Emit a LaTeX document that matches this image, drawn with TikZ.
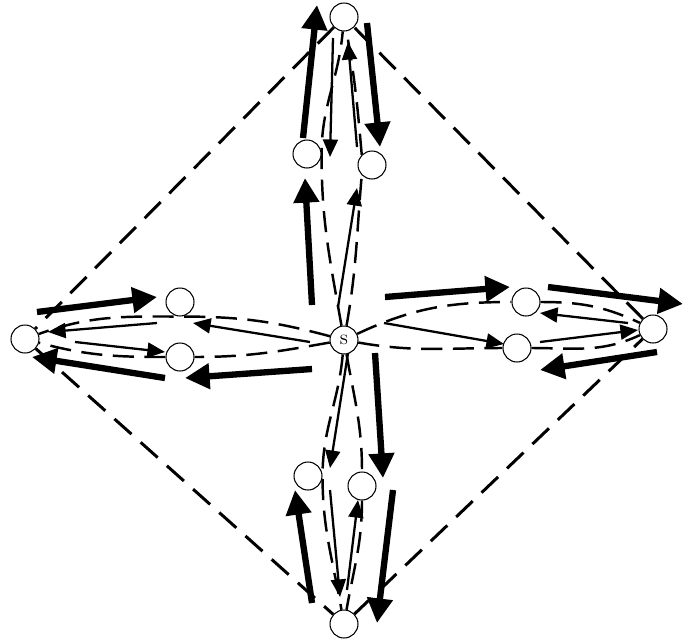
\documentclass[tikz,border=0pt]{standalone}
\usepackage{tikz}
\usetikzlibrary{arrows.meta}
\pgfdeclarelayer{bg}
\pgfsetlayers{bg,main}

\begin{document}
\begin{tikzpicture}[x=0.02cm,y=-0.02cm,
    vtx/.style={circle,draw,line width=0.6pt,fill=white,minimum size=0.56cm,inner sep=0pt},
    frame/.style={line width=1.7pt,dash pattern=on 13pt off 7pt},
    lens/.style={line width=1.4pt,dash pattern=on 12pt off 6pt},
    thk/.style={line width=3.6pt,-{Triangle[length=14pt,width=14pt]}},
    thn/.style={line width=1.3pt,-{Triangle[length=10pt,width=8.5pt]}}]
\useasboundingbox (0,0) rectangle (689,643);

% vertices
\node[vtx,font=\large] (s) at (344,340) {s};
\node[vtx] (t) at (344,17) {};
\node[vtx] (tl) at (307,154) {};
\node[vtx] (tr) at (372,165) {};
\node[vtx] (l) at (25,339) {};
\node[vtx] (lu) at (180,302) {};
\node[vtx] (ll) at (180,357) {};
\node[vtx] (r) at (653,329) {};
\node[vtx] (ru) at (526,302) {};
\node[vtx] (rl) at (517,348) {};
\node[vtx] (b) at (344,624) {};
\node[vtx] (bl) at (308,476) {};
\node[vtx] (br) at (362,486) {};

\begin{pgfonlayer}{bg}
% outer diamond
\draw[frame] (t) -- (l) -- (b) -- (r) -- (t);

% dashed lobes
\draw[lens] (s) to[out=25,in=180] (ru) to[out=0,in=155] (r);
\draw[lens] (s) to[out=-10,in=180] (rl) to[out=0,in=-155] (r);
\draw[lens] (s) to[out=165,in=0] (lu.south) to[out=180,in=20] (l);
\draw[lens] (s) to[out=-170,in=0] (ll) to[out=180,in=-15] (l);
\draw[lens] (s) to[out=100,in=-90] (tl.east) to[out=90,in=-95] (t);
\draw[lens] (s) to[out=80,in=-95] (tr.south west);
\draw[lens] (tr.north west) to[out=95,in=-80] (t);
\draw[lens] (s) to[out=-95,in=90] (bl.east) to[out=-90,in=100] (b);
\draw[lens] (s) to[out=-80,in=90] (br) to[out=-90,in=80] (b);

% right
\draw[thk] ([shift={(41,-43)}]s.center) -- ([shift={(-16,-15)}]ru.center);
\draw[thk] ([shift={(22,-15)}]ru.center) -- ([shift={(30,-25)}]r.center);
\draw[thn] ([shift={(40,-17)}]s.center) -- ([shift={(-13,-4)}]rl.center);
\draw[thn] ([shift={(23,-6)}]rl.center) -- ([shift={(-15,1)}]r.center);
\draw[thn] ([shift={(-25,-6)}]r.center) -- ([shift={(14,11)}]ru.center);
\draw[thk] ([shift={(4,23)}]r.center) -- ([shift={(23,22)}]rl.center);

% left
\draw[thk] ([shift={(12,-27)}]l.center) -- ([shift={(-23,-5)}]lu.center);
\draw[thn] ([shift={(-23,21)}]lu.center) -- ([shift={(23,-7)}]l.center);
\draw[thn] ([shift={(50,3)}]l.center) -- ([shift={(-15,-5)}]ll.center);
\draw[thk] ([shift={(-15,21)}]ll.center) -- ([shift={(7,18)}]l.center);
\draw[thn] ([shift={(-34,2)}]s.center) -- ([shift={(13,21)}]lu.center);
\draw[thk] ([shift={(-32,29)}]s.center) -- ([shift={(5,21)}]ll.center);

% top
\draw[thk] ([shift={(-32,-35)}]s.center) -- ([shift={(-2,24)}]tl.center);
\draw[thn] ([shift={(-6,-33)}]s.center) -- ([shift={(-15,23)}]tr.center);
\draw[thk] ([shift={(-4,-16)}]tl.center) -- ([shift={(-27,-12)}]t.center);
\draw[thn] ([shift={(-11,21)}]t.center) -- ([shift={(23,3)}]tl.center);
\draw[thn] ([shift={(-15,-18)}]tr.center) -- ([shift={(4,25)}]t.center);
\draw[thk] ([shift={(23,6)}]t.center) -- ([shift={(8,-18)}]tr.center);

% bottom
\draw[thn] ([shift={(4,13)}]s.center) -- ([shift={(22,-8)}]bl.center);
\draw[thk] ([shift={(31,13)}]s.center) -- ([shift={(21,-8)}]br.center);
\draw[thk] ([shift={(-32,-21)}]b.center) -- ([shift={(-13,14)}]bl.center);
\draw[thn] ([shift={(22,14)}]bl.center) -- ([shift={(-4,-27)}]b.center);
\draw[thn] ([shift={(3,-34)}]b.center) -- ([shift={(-4,14)}]br.center);
\draw[thk] ([shift={(31,4)}]br.center) -- ([shift={(33,-1)}]b.center);
\end{pgfonlayer}
\end{tikzpicture}
\end{document}
